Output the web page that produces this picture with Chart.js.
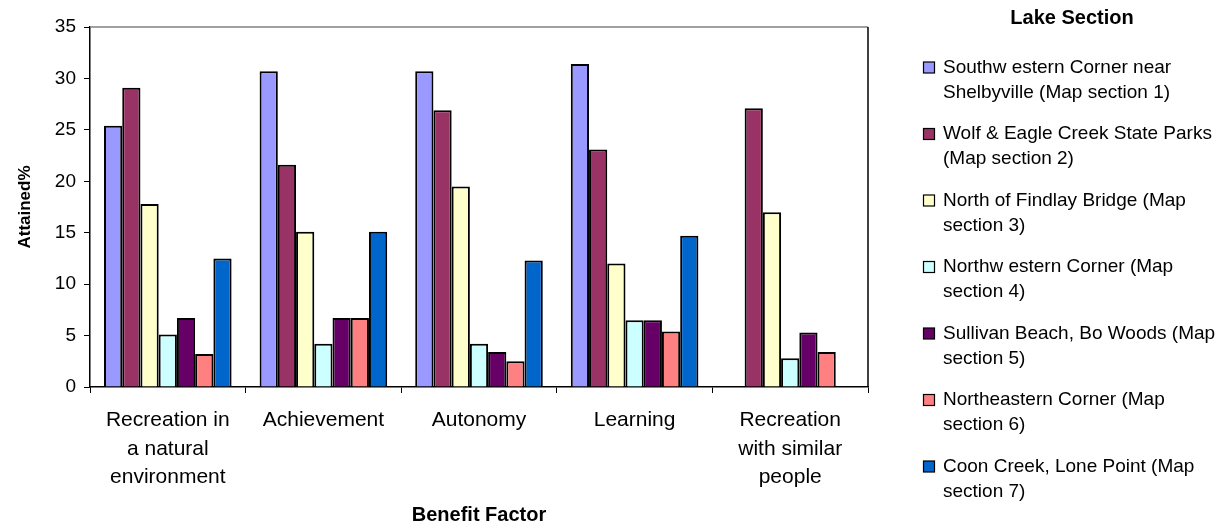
<!DOCTYPE html>
<html>
<head>
<meta charset="utf-8">
<script src="https://cdn.jsdelivr.net/npm/chart.js@4.4.1/dist/chart.umd.min.js"></script>
<style>
	html, body { margin: 0; padding: 0; background: #ffffff; }
	#Benefit_Plot { display: block; }
</style>
</head>
<body>
<canvas id="Benefit_Plot" width="1227" height="523"></canvas>
<script>

// Categories (x axis), wrapped the way they show under the bars
const benefit_factors = [
	["Recreation in", "a natural", "environment"],
	["Achievement"],
	["Autonomy"],
	["Learning"],
	["Recreation", "with similar", "people"]
];

// Legend text, two lines per lake section
const section_labels = [
	["Southw estern Corner near", "Shelbyville (Map section 1)"],
	["Wolf & Eagle Creek State Parks", "(Map section 2)"],
	["North of Findlay Bridge (Map", "section 3)"],
	["Northw estern Corner (Map", "section 4)"],
	["Sullivan Beach, Bo Woods (Map", "section 5)"],
	["Northeastern Corner (Map", "section 6)"],
	["Coon Creek, Lone Point (Map", "section 7)"]
];

const section_colors = ["#9999FF", "#993366", "#FFFFCC", "#CCFFFF", "#660066", "#FF8080", "#0066CC"];

// Attained% per section, one value per benefit factor
const section1 = [25.4, 30.7, 30.7, 31.4, null];
const section2 = [29.1, 21.6, 26.9, 23.1, 27.1];
const section3 = [17.8, 15.1, 19.5, 12.0, 17.0];
const section4 = [5.1, 4.2, 4.2, 6.5, 2.8];
const section5 = [6.7, 6.7, 3.4, 6.5, 5.3];
const section6 = [3.2, 6.7, 2.5, 5.4, 3.4];
const section7 = [12.5, 15.1, 12.3, 14.7, null];

const y_ticks = [0, 5, 10, 15, 20, 25, 30, 35];

const all_sections = [section1, section2, section3, section4, section5, section6, section7];

Chart.defaults.font.family = '"Liberation Sans", Arial, sans-serif';
Chart.defaults.color = "#000000";


// Frame round the plot + the "Lake Section" legend on the right
const frame_and_legend = {
	id: "frame_and_legend",
	afterDraw(chart) {
		const ctx = chart.ctx;
		const area = chart.chartArea;
		ctx.save();
		ctx.lineWidth = 1.5;
		ctx.strokeStyle = "#808080";
		ctx.beginPath();
		ctx.moveTo(area.left, area.top);
		ctx.lineTo(area.right, area.top);
		ctx.stroke();
		ctx.strokeStyle = "#000000";
		ctx.beginPath();
		ctx.moveTo(area.right, area.top);
		ctx.lineTo(area.right, area.bottom);
		ctx.stroke();

		// legend title
		ctx.fillStyle = "#000000";
		ctx.textAlign = "center";
		ctx.textBaseline = "middle";
		ctx.font = 'bold 20px "Liberation Sans", Arial, sans-serif';
		ctx.fillText("Lake Section", 1072, 18);

		// legend items
		ctx.textAlign = "left";
		ctx.font = '19px "Liberation Sans", Arial, sans-serif';
		chart.data.datasets.forEach(function(ds, i) {
			var y0 = 67.5 + i * 66.5;
			ctx.fillStyle = ds.backgroundColor;
			ctx.fillRect(923.5, y0 - 5.5, 11, 11);
			ctx.lineWidth = 1.2;
			ctx.strokeStyle = "#000000";
			ctx.strokeRect(923.5, y0 - 5.5, 11, 11);
			ctx.fillStyle = "#000000";
			section_labels[i].forEach(function(line, j) {
				ctx.fillText(line, 943, y0 + j * 25);
			});
		});
		ctx.restore();
	}
};


var Benefit_Plot_Obj = new Chart(document.getElementById("Benefit_Plot").getContext("2d"), {
	type: "bar",
	data: {
		labels: benefit_factors,
		datasets: all_sections.map(function(vals, i) {
			return {
				label: section_labels[i].join(" "),
				data: vals,
				backgroundColor: section_colors[i],
				borderColor: "#000000",
				borderWidth: 2,
				categoryPercentage: 0.82,
				barPercentage: 1.0
			};
		})
	},
	options: {
		responsive: false,
		animation: false,
		layout: {
			padding: { left: 0, right: 359, top: 27, bottom: 0 }
		},
		plugins: {
			legend: { display: false },
			tooltip: { enabled: false }
		},
		scales: {
			x: {
				afterFit: function(scale) { scale.height = 136; },
				grid: {
					display: true,
					offset: true,
					drawOnChartArea: false,
					drawTicks: true,
					tickLength: 6,
					color: "#000000",
					lineWidth: 1
				},
				border: { display: true, color: "#000000", width: 1.5 },
				ticks: {
					maxRotation: 0,
					autoSkip: false,
					padding: 13,
					font: { size: 21, lineHeight: 1.36 },
					color: "#000000"
				},
				title: {
					display: true,
					text: "Benefit Factor",
					font: { size: 20, weight: "bold", lineHeight: 0.8 },
					padding: { top: 4, bottom: 0 },
					color: "#000000"
				}
			},
			y: {
				min: 0,
				max: 35,
				afterFit: function(scale) { scale.width = 90; },
				afterBuildTicks: function(scale) {
					scale.ticks = y_ticks.map(function(v) { return { value: v }; });
				},
				grid: {
					display: true,
					drawOnChartArea: false,
					drawTicks: true,
					tickLength: 6,
					color: "#000000"
				},
				border: { display: true, color: "#000000", width: 1.5 },
				ticks: {
					padding: 8,
					font: { size: 19 },
					color: "#000000"
				},
				title: {
					display: true,
					text: "Attained%",
					font: { size: 17, weight: "bold" },
					padding: { top: 15, bottom: 0 },
					color: "#000000"
				}
			}
		},
		events: []
	},
	plugins: [frame_and_legend]
});

</script>
</body>
</html>
